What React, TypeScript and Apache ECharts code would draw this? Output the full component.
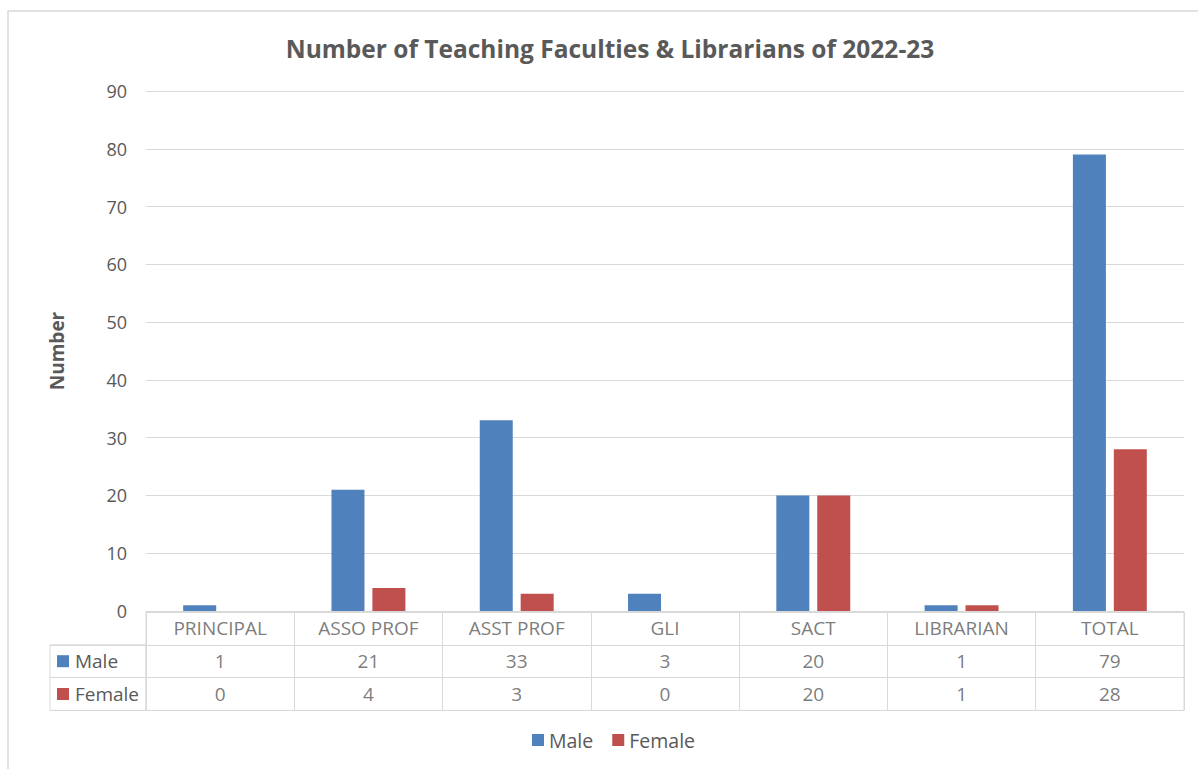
import React, { useEffect, useRef } from "react";
import * as echarts from "echarts";

const categories = ["PRINCIPAL", "ASSO PROF", "ASST PROF", "GLI", "SACT", "LIBRARIAN", "TOTAL"];
const maleValues = [1, 21, 33, 3, 20, 1, 79];
const femaleValues = [0, 4, 3, 0, 20, 1, 28];
const seriesNames = ["Male", "Female"];
const yTicks = { min: 0, max: 90, interval: 10 };
const titleText = "Number of Teaching Faculties & Librarians of 2022-23";
const yAxisTitle = "Number";

const MALE = "#4F81BD";
const FEMALE = "#C0504D";
const TXT = "#595959";
const LINE = "#d9d9d9";
const FONT = "'Open Sans', 'Noto Sans', sans-serif";

export default function App() {
  const ref = useRef<HTMLDivElement>(null);
  useEffect(() => {
    if (!ref.current) return;
    const chart = echarts.init(ref.current, undefined, { renderer: "svg" });
    const plotLeft = 146;
    const plotRight = 14;
    const plotTop = 91;
    const plotBottomY = 611;
    const tableTop = 612;
    const rowH = 32.8;
    const rows = ["cat", "Male", "Female"];

    const cellData: any[] = [];
    categories.forEach((c, i) => {
      cellData.push([i, 0, c]);
      cellData.push([i, 1, String(maleValues[i])]);
      cellData.push([i, 2, String(femaleValues[i])]);
    });

    chart.setOption({
      animation: false,
      textStyle: { fontFamily: FONT },
      title: {
        text: titleText,
        left: 605,
        textAlign: "center",
        top: 31,
        textStyle: { fontFamily: FONT, fontSize: 24.5, fontWeight: "bold", color: TXT },
      },
      legend: {
        data: seriesNames,
        bottom: 14,
        left: 527,
        icon: "rect",
        itemWidth: 12,
        itemHeight: 12,
        itemGap: 19,
        textStyle: { fontFamily: FONT, fontSize: 19.5, color: TXT },
      },
      graphic: [
        {
          type: "rect",
          shape: { x: 8, y: 11, width: 1300, height: 900 },
          style: { fill: "none", stroke: LINE, lineWidth: 1.5 },
          silent: true,
        },
      ],
      grid: [
        { left: plotLeft, right: plotRight, top: plotTop, height: plotBottomY - plotTop },
        {
          left: plotLeft,
          right: plotRight,
          top: tableTop,
          height: rowH * 3,
          show: true,
          borderColor: LINE,
          borderWidth: 1,
        },
        {
          left: 50,
          width: plotLeft - 50,
          top: tableTop + rowH,
          height: rowH * 2,
          show: true,
          borderColor: LINE,
          borderWidth: 1,
        },
      ],
      xAxis: [
        {
          gridIndex: 0,
          type: "category",
          data: categories,
          axisLine: { show: true, lineStyle: { color: LINE } },
          axisTick: { show: false },
          axisLabel: { show: false },
        },
        {
          gridIndex: 1,
          type: "category",
          data: categories,
          axisLine: { show: false },
          axisTick: { show: false },
          axisLabel: { show: false },
          splitLine: { show: true, lineStyle: { color: LINE } },
        },
        {
          gridIndex: 2,
          type: "category",
          data: [""],
          axisLine: { show: false },
          axisTick: { show: false },
          axisLabel: { show: false },
        },
      ],
      yAxis: [
        {
          gridIndex: 0,
          type: "value",
          min: yTicks.min,
          max: yTicks.max,
          interval: yTicks.interval,
          name: yAxisTitle,
          nameLocation: "middle",
          nameRotate: 90,
          nameGap: 80,
          nameTextStyle: { fontFamily: FONT, fontSize: 19, fontWeight: "bold", color: TXT },
          axisLine: { show: false },
          axisTick: { show: false },
          axisLabel: { margin: 19, fontSize: 18, color: TXT, fontFamily: FONT },
          splitLine: { show: true, lineStyle: { color: LINE } },
        },
        {
          gridIndex: 1,
          type: "category",
          data: rows,
          inverse: true,
          axisLine: { show: false },
          axisTick: { show: false },
          axisLabel: { show: false },
          splitLine: { show: true, lineStyle: { color: LINE } },
        },
        {
          gridIndex: 2,
          type: "category",
          data: seriesNames,
          inverse: true,
          axisLine: { show: false },
          axisTick: { show: false },
          splitLine: { show: true, lineStyle: { color: LINE } },
          axisLabel: {
            show: true,
            inside: true,
            margin: 7,
            align: "left",
            formatter: (v: string) => `{${v === "Male" ? "m" : "f"}| }{t| ${v}}`,
            rich: {
              m: { width: 12, height: 12, backgroundColor: MALE },
              f: { width: 12, height: 12, backgroundColor: FEMALE },
              t: { fontSize: 19, color: TXT, fontFamily: FONT, padding: [0, 0, 0, 1] },
            },
          },
        },
      ],
      series: [
        {
          name: seriesNames[0],
          type: "bar",
          xAxisIndex: 0,
          yAxisIndex: 0,
          data: maleValues,
          barWidth: 33,
          barGap: "24%",
          itemStyle: { color: MALE },
        },
        {
          name: seriesNames[1],
          type: "bar",
          xAxisIndex: 0,
          yAxisIndex: 0,
          data: femaleValues,
          barWidth: 33,
          barGap: "24%",
          itemStyle: { color: FEMALE },
        },
        {
          name: "table",
          type: "scatter",
          xAxisIndex: 1,
          yAxisIndex: 1,
          data: cellData,
          symbolSize: 1,
          itemStyle: { color: "transparent" },
          silent: true,
          label: {
            show: true,
            position: "inside",
            formatter: (p: any) => p.data[2],
            fontSize: 19,
            color: TXT,
            fontFamily: FONT,
          },
        },
      ],
    });
    return () => chart.dispose();
  }, []);
  return (
    <div
      ref={ref}
      style={{ position: "absolute", left: 0, top: 0, width: 1198, height: 769, background: "#fff" }}
    />
  );
}
